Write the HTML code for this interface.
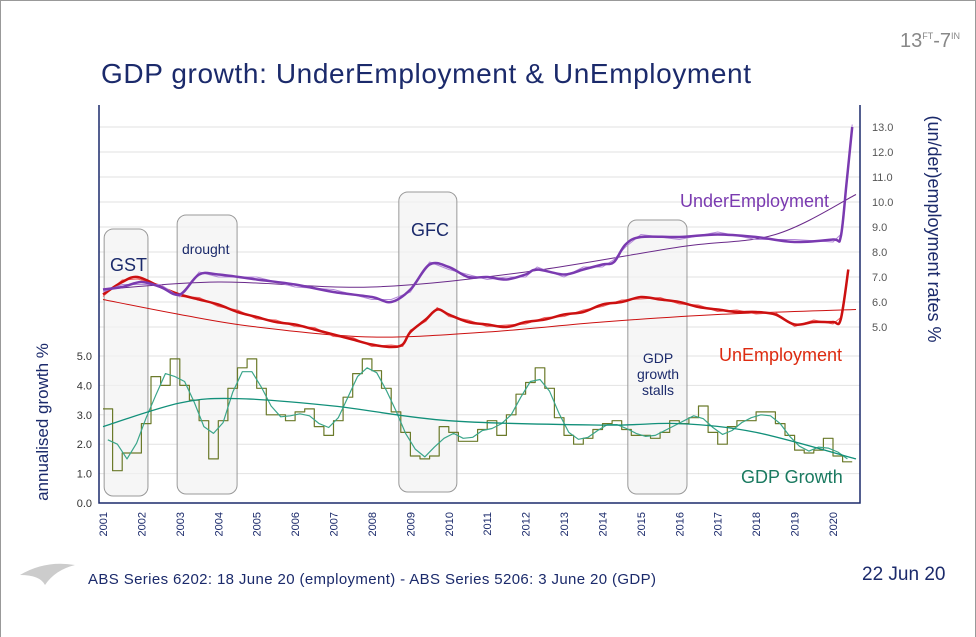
<!DOCTYPE html>
<html><head><meta charset="utf-8"><style>
body{margin:0;background:#fff;}
#wrap{position:relative;width:976px;height:637px;overflow:hidden;font-family:"Liberation Sans",sans-serif;}
svg text{font-family:"Liberation Sans",sans-serif;}
</style></head><body>
<div id="wrap">
<svg id="c" width="976" height="637">
<rect x="0.5" y="0.5" width="975" height="640" fill="#fff" stroke="#999"/>
<text x="101" y="83" font-size="28" fill="#1b2a6b" textLength="650">GDP growth: UnderEmployment &amp; UnEmployment</text>
<text x="900" y="47" font-size="20" fill="#888">13<tspan font-size="9" dy="-8">FT</tspan><tspan dy="8">-7</tspan><tspan font-size="9" dy="-8">IN</tspan></text>
<text x="862" y="580" font-size="19" fill="#1b2a6b">22 Jun 20</text>
<text x="88" y="584" font-size="15" fill="#1b2a6b" textLength="568">ABS Series 6202:  18 June 20 (employment)  - ABS Series 5206:  3 June 20 (GDP)</text>
<path d="M20 575 Q45 560 75 565 Q55 570 45 585 Q40 575 20 575Z" fill="#ccc"/>
<g id="grid"></g><g id="boxes"></g><g id="series"></g><g id="axes"></g>
</svg>
</div>
<script>
const years=[2001,2002,2003,2004,2005,2006,2007,2008,2009,2010,2011,2012,2013,2014,2015,2016,2017,2018,2019,2020];
const leftTicks=[0,1,2,3,4,5];
const rightTicks=[5,6,7,8,9,10,11,12,13];
const gdpStart=2001.0;
const gdp=[3.2,1.1,1.7,1.7,2.7,4.3,4.0,4.9,4.0,3.5,2.8,1.5,2.8,3.9,4.6,4.9,3.9,3.0,3.0,2.8,3.1,3.2,2.6,2.3,2.8,3.6,4.4,4.9,4.5,3.9,3.1,2.4,1.6,1.5,1.6,2.6,2.4,2.1,2.1,2.5,2.8,2.3,3.0,3.7,4.1,4.6,3.9,2.9,2.3,2.0,2.2,2.5,2.7,2.8,2.5,2.3,2.3,2.2,2.4,2.8,2.7,2.9,3.3,2.4,2.0,2.6,2.8,2.8,3.1,3.1,2.7,2.3,1.8,1.7,1.8,2.2,1.6,1.4];
const gdpTrend=[[2001,2.6],[2003,3.4],[2004.5,3.55],[2007,3.3],[2010,2.8],[2014,2.65],[2016,2.7],[2018,2.4],[2020.6,1.5]];
const uneT=[2001,2001.5,2001.9,2002.5,2003,2003.5,2004,2004.5,2005,2005.5,2006,2006.5,2007,2007.5,2008,2008.5,2008.8,2009,2009.4,2009.7,2010,2010.5,2011,2011.5,2012,2012.5,2013,2013.5,2014,2014.5,2015,2015.5,2016,2016.5,2017,2017.5,2018,2018.5,2019,2019.5,2020,2020.2,2020.4];
const une=[6.3,6.8,7.0,6.6,6.3,6.1,5.9,5.6,5.4,5.2,5.1,4.9,4.7,4.5,4.3,4.2,4.3,4.8,5.3,5.7,5.5,5.2,5.1,5.0,5.2,5.3,5.5,5.6,5.9,6.0,6.2,6.1,6.0,5.8,5.7,5.6,5.6,5.5,5.1,5.2,5.2,5.3,7.3];
const uneTrend=[[2001,6.1],[2003,5.5],[2005,5.0],[2008,4.6],[2011,4.8],[2014,5.2],[2017,5.5],[2020.6,5.7]];
const undT=[2001,2001.5,2002,2002.5,2003,2003.5,2004,2005,2006,2007,2008,2008.5,2009,2009.5,2010,2010.5,2011,2011.5,2012,2012.3,2013,2013.5,2014,2014.3,2014.6,2015,2016,2017,2018,2019,2020,2020.2,2020.35,2020.5];
const und=[6.5,6.6,6.8,6.6,6.3,7.1,7.1,6.9,6.7,6.4,6.2,6.0,6.5,7.5,7.4,7.0,7.0,6.9,7.1,7.3,7.1,7.3,7.5,7.6,8.3,8.6,8.6,8.7,8.6,8.4,8.5,8.6,10.7,13.0];
const undTrend=[[2001,6.5],[2004,6.8],[2008,6.6],[2012,7.2],[2016,8.2],[2018.5,8.7],[2020.6,10.3]];
const X0=99,X1=860,YT=105,YB=503;
const x=t=>103+(t-2001)*38.42;
const yl=v=>503-v*29.4;
const yr=v=>327-(v-5)*25;
const NS="http://www.w3.org/2000/svg";
function mk(tag,attrs,parent){const e=document.createElementNS(NS,tag);for(const k in attrs)e.setAttribute(k,attrs[k]);document.getElementById(parent).appendChild(e);return e;}
leftTicks.slice(1).forEach(v=>{const l=mk('line',{x1:X0,x2:X1,y1:yl(v),y2:yl(v),stroke:'#e2e2e2'},'grid');

});
rightTicks.forEach(v=>{const l=mk('line',{x1:X0,x2:X1,y1:yr(v),y2:yr(v),stroke:'#e2e2e2'},'grid');

});
[[2001.03,2002.17,229,496],[2002.93,2004.49,215,494],[2008.7,2010.21,192,492],[2014.66,2016.2,220,494]].forEach((b,i)=>{const r=mk('rect',{x:x(b[0]),y:b[2],width:x(b[1])-x(b[0]),height:b[3]-b[2],rx:9,fill:'#f2f2f2','fill-opacity':0.7,stroke:'#999'},'boxes');

});
function txt(s,a,p,name){const t=mk('text',a,p);t.textContent=s;return t;}
txt('GST',{x:110,y:271,'font-size':18,fill:'#1b2a6b'},'boxes','gst-label');
txt('drought',{x:182,y:254,'font-size':14,fill:'#1b2a6b'},'boxes','drought-label');
txt('GFC',{x:411,y:236,'font-size':18,fill:'#1b2a6b'},'boxes','gfc-label');
['GDP','growth','stalls'].forEach((s,i)=>txt(s,{x:658,y:363+i*16,'font-size':14,fill:'#1b2a6b','text-anchor':'middle'},'boxes','gdp-stalls-label'));
function poly(pts,stroke,w,name){const p=mk('polyline',{points:pts.map(q=>q[0].toFixed(1)+','+q[1].toFixed(1)).join(' '),fill:'none',stroke:stroke,'stroke-width':w,'stroke-linejoin':'round'},'series');

}
function smoothPath(pts,stroke,w,name){let d='M'+pts[0][0].toFixed(1)+','+pts[0][1].toFixed(1);
for(let i=0;i<pts.length-1;i++){const p0=pts[Math.max(0,i-1)],p1=pts[i],p2=pts[i+1],p3=pts[Math.min(pts.length-1,i+2)];
const c1=[p1[0]+(p2[0]-p0[0])/6,p1[1]+(p2[1]-p0[1])/6],c2=[p2[0]-(p3[0]-p1[0])/6,p2[1]-(p3[1]-p1[1])/6];
d+=' C'+c1[0].toFixed(1)+','+c1[1].toFixed(1)+' '+c2[0].toFixed(1)+','+c2[1].toFixed(1)+' '+p2[0].toFixed(1)+','+p2[1].toFixed(1);}
const p=mk('path',{d:d,fill:'none',stroke:stroke,'stroke-width':w},'series');

}
let st=[];gdp.forEach((v,i)=>{const t=gdpStart+i*0.25;st.push([x(t),yl(v)]);st.push([x(Math.min(t+0.25,2020.5)),yl(v)]);});
poly(st,'#6b7a2a',1.2,'gdp-quarterly-step');
let sm=gdp.map((v,i)=>{const a=gdp.slice(Math.max(0,i-1),i+2);return [x(gdpStart+i*0.25+0.125),yl(a.reduce((s,q)=>s+q,0)/a.length)];});
poly(sm,'#3aa58a',1.2,'gdp-smoothed');
smoothPath(gdpTrend.map(p=>[x(p[0]),yl(p[1])]),'#12907a',1.3,'gdp-trend');
smoothPath(uneTrend.map(p=>[x(p[0]),yr(p[1])]),'#cc1010',1,'unemployment-trend');
poly(uneT.map((t,i)=>[x(t),yr(une[i]+((i%2)?0.08:-0.08))]),'#f06060',1,'unemployment-monthly');
smoothPath(uneT.map((t,i)=>[x(t),yr(une[i])]),'#cc1010',2.5,'unemployment-smoothed');
smoothPath(undTrend.map(p=>[x(p[0]),yr(p[1])]),'#6a2a8a',1,'underemployment-trend');
poly(undT.map((t,i)=>[x(t),yr(und[i]+((i%2)?0.1:-0.1))]),'#b48ad8',1,'underemployment-quarterly');
smoothPath(undT.map((t,i)=>[x(t),yr(und[i])]),'#7a3ab0',2.5,'underemployment-smoothed');
txt('UnderEmployment',{x:680,y:207,'font-size':18,fill:'#7a3ab0'},'series','underemployment-label');
txt('UnEmployment',{x:719,y:361,'font-size':18,fill:'#dd2a10'},'series','unemployment-label');
txt('GDP Growth',{x:741,y:483,'font-size':18,fill:'#1a7a60'},'series','gdp-growth-label');
const ax=mk('path',{d:`M${X0},${YT} V${YB} H${X1} V${YT}`,fill:'none',stroke:'#1b2a6b','stroke-width':1.5},'axes');


leftTicks.forEach(v=>txt(v.toFixed(1),{x:92,y:yl(v)+4,'font-size':11,fill:'#333','text-anchor':'end'},'axes','left-tick-label'));
rightTicks.forEach(v=>txt(v.toFixed(1),{x:872,y:yr(v)+4,'font-size':11,fill:'#555'},'axes','right-tick-label'));
years.forEach(y=>txt(String(y),{x:0,y:0,'font-size':11,fill:'#1b2a6b','text-anchor':'end',transform:`translate(${x(y)+4},512) rotate(-90)`},'axes','x-tick-label'));
txt('annualised growth  %',{x:0,y:0,'font-size':17,fill:'#1b2a6b','text-anchor':'middle',transform:'translate(48,422) rotate(-90)'},'axes','left-axis-title');
txt('(un/der)employment rates %',{x:0,y:0,'font-size':18,fill:'#1b2a6b','text-anchor':'middle',transform:'translate(928,229) rotate(90)'},'axes','right-axis-title');
</script>
</body></html>
